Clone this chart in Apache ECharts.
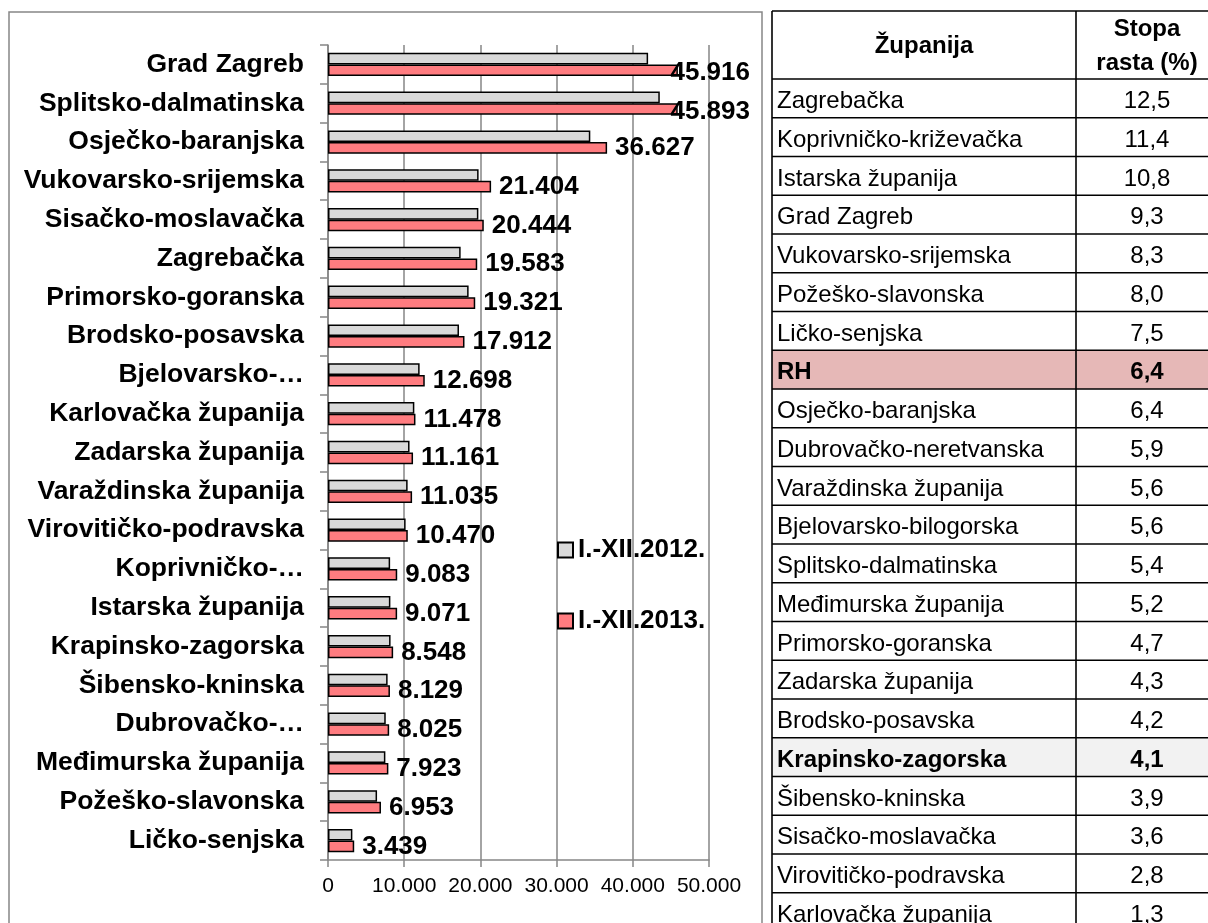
<!DOCTYPE html>
<html>
<head>
<meta charset="utf-8">
<script src="https://cdn.jsdelivr.net/npm/echarts@6.0.0/dist/echarts.min.js"></script>
<style>
  html, body { margin: 0; padding: 0; background: #fff; }
  #main { width: 1208px; height: 923px; }
</style>
</head>
<body>
<div id="main"></div>
<script>
var counties = ['Grad Zagreb', 'Splitsko-dalmatinska', 'Osječko-baranjska', 'Vukovarsko-srijemska',
  'Sisačko-moslavačka', 'Zagrebačka', 'Primorsko-goranska', 'Brodsko-posavska', 'Bjelovarsko-…',
  'Karlovačka županija', 'Zadarska županija', 'Varaždinska županija', 'Virovitičko-podravska',
  'Koprivničko-…', 'Istarska županija', 'Krapinsko-zagorska', 'Šibensko-kninska', 'Dubrovačko-…',
  'Međimurska županija', 'Požeško-slavonska', 'Ličko-senjska'];
var values2012 = [42009, 43542, 34424, 19764, 19734, 17407, 18454, 17190, 12025, 11331, 10701,
  10450, 10185, 8153, 8187, 8211, 7824, 7578, 7531, 6438, 3199];
var values2013 = [45916, 45893, 36627, 21404, 20444, 19583, 19321, 17912, 12698, 11478, 11161,
  11035, 10470, 9083, 9071, 8548, 8129, 8025, 7923, 6953, 3439];
var seriesNames = ['I.-XII.2012.', 'I.-XII.2013.'];

var tableHeader = ['Županija', 'Stopa\nrasta (%)'];
var tableNames = ['Zagrebačka', 'Koprivničko-križevačka', 'Istarska županija', 'Grad Zagreb',
  'Vukovarsko-srijemska', 'Požeško-slavonska', 'Ličko-senjska', 'RH', 'Osječko-baranjska',
  'Dubrovačko-neretvanska', 'Varaždinska županija', 'Bjelovarsko-bilogorska', 'Splitsko-dalmatinska',
  'Međimurska županija', 'Primorsko-goranska', 'Zadarska županija', 'Brodsko-posavska',
  'Krapinsko-zagorska', 'Šibensko-kninska', 'Sisačko-moslavačka', 'Virovitičko-podravska',
  'Karlovačka županija'];
var tableRates = [12.5, 11.4, 10.8, 9.3, 8.3, 8.0, 7.5, 6.4, 6.4, 5.9, 5.6, 5.6, 5.4, 5.2, 4.7,
  4.3, 4.2, 4.1, 3.9, 3.6, 2.8, 1.3];

var FONT = '"Liberation Sans", Arial, sans-serif';

function thousands(v) {
  return String(v).replace(/\B(?=(\d{3})+(?!\d))/g, '.');
}

var chart = echarts.init(document.getElementById('main'));

// table on the right side, drawn with graphic elements
var tblLeft = 772, tblMid = 1076, tblRight = 1218, tblTop = 11, headH = 68, rowH = 38.75;
var rowFill = { 'RH': '#E6B8B7', 'Krapinsko-zagorska': '#F2F2F2' };
var graphics = [];

// chart frame
graphics.push({
  type: 'rect', silent: true,
  shape: { x: 9, y: 12, width: 753, height: 940 },
  style: { fill: 'none', stroke: '#868686', lineWidth: 1.5 }
});

tableNames.forEach(function (name, i) {
  var y0 = tblTop + headH + i * rowH;
  if (rowFill[name]) {
    graphics.push({
      type: 'rect', silent: true,
      shape: { x: tblLeft, y: y0, width: tblRight - tblLeft, height: rowH },
      style: { fill: rowFill[name] }
    });
  }
});

var hLines = [tblTop, tblTop + headH];
tableNames.forEach(function (n, i) { hLines.push(tblTop + headH + (i + 1) * rowH); });
hLines.forEach(function (y) {
  graphics.push({
    type: 'line', silent: true,
    shape: { x1: tblLeft, y1: y, x2: tblRight, y2: y },
    style: { stroke: '#000', lineWidth: 1.6 }
  });
});
[tblLeft, tblMid, tblRight].forEach(function (x) {
  graphics.push({
    type: 'line', silent: true,
    shape: { x1: x, y1: tblTop, x2: x, y2: 940 },
    style: { stroke: '#000', lineWidth: 1.6 }
  });
});

graphics.push({
  type: 'text', silent: true, x: (tblLeft + tblMid) / 2, y: tblTop + headH / 2 + 1,
  style: { text: tableHeader[0], font: 'bold 24px ' + FONT, fill: '#000',
    align: 'center', verticalAlign: 'middle', textAlign: 'center', textVerticalAlign: 'middle' }
});
graphics.push({
  type: 'text', silent: true, x: 1147, y: tblTop + headH / 2 + 1,
  style: { text: tableHeader[1], font: 'bold 24px ' + FONT, fill: '#000', lineHeight: 34,
    align: 'center', verticalAlign: 'middle', textAlign: 'center', textVerticalAlign: 'middle' }
});

tableNames.forEach(function (name, i) {
  var yc = tblTop + headH + i * rowH + rowH / 2 + 3;
  var bold = rowFill[name] ? 'bold ' : '';
  graphics.push({
    type: 'text', silent: true, x: tblLeft + 5, y: yc,
    style: { text: name, font: bold + '24px ' + FONT, fill: '#000',
      align: 'left', verticalAlign: 'middle', textAlign: 'left', textVerticalAlign: 'middle' }
  });
  graphics.push({
    type: 'text', silent: true, x: 1147, y: yc,
    style: { text: tableRates[i].toFixed(1).replace('.', ','), font: bold + '24px ' + FONT, fill: '#000',
      align: 'center', verticalAlign: 'middle', textAlign: 'center', textVerticalAlign: 'middle' }
  });
});

var option = {
  backgroundColor: '#fff',
  animation: false,
  textStyle: { fontFamily: FONT },
  grid: { left: 328, top: 45, width: 381, height: 815, containLabel: false },
  legend: {
    orient: 'vertical',
    left: 557,
    top: 537,
    padding: 0,
    itemWidth: 15,
    itemHeight: 15,
    itemGap: 45,
    icon: 'rect',
    data: seriesNames,
    textStyle: { fontFamily: FONT, fontSize: 26, fontWeight: 'bold', color: '#000' }
  },
  xAxis: {
    type: 'value',
    min: 0,
    max: 50000,
    interval: 10000,
    axisLine: { show: true, lineStyle: { color: '#868686', width: 1.5 } },
    axisTick: { show: true, length: 7, lineStyle: { color: '#868686', width: 1.5 } },
    splitLine: { show: true, lineStyle: { color: '#868686', width: 1.5 } },
    axisLabel: {
      margin: 16, color: '#000', fontFamily: FONT, fontSize: 21,
      formatter: function (v) { return thousands(v); }
    }
  },
  yAxis: {
    type: 'category',
    inverse: true,
    data: counties,
    axisLine: { show: true, lineStyle: { color: '#868686', width: 1.5 } },
    axisTick: { show: true, length: 8, lineStyle: { color: '#868686', width: 1.5 } },
    axisLabel: { margin: 24, color: '#000', fontFamily: FONT, fontSize: 26.5, fontWeight: 'bold' }
  },
  series: [
    {
      name: seriesNames[0],
      type: 'bar',
      data: values2012,
      barGap: '0%',
      barCategoryGap: '40%',
      itemStyle: { color: '#D9D9D9', borderColor: '#000', borderWidth: 1.5 }
    },
    {
      name: seriesNames[1],
      type: 'bar',
      data: values2013,
      barGap: '0%',
      barCategoryGap: '40%',
      itemStyle: { color: '#FF7C80', borderColor: '#000', borderWidth: 1.5 },
      label: {
        show: true,
        position: 'right',
        distance: 8,
        offset: [0, 3],
        color: '#000',
        fontFamily: FONT,
        fontSize: 26,
        fontWeight: 'bold',
        formatter: function (p) { return thousands(p.value); }
      },
      // keep the long labels inside the chart frame, like the original
      labelLayout: function (params) {
        var r = params.labelRect;
        if (r.x + r.width > 750) {
          return {
            x: 750 - r.width,
            y: r.y + r.height / 2,
            align: 'left',
            verticalAlign: 'middle'
          };
        }
        return {};
      }
    }
  ],
  graphic: graphics
};

chart.setOption(option);
</script>
</body>
</html>
